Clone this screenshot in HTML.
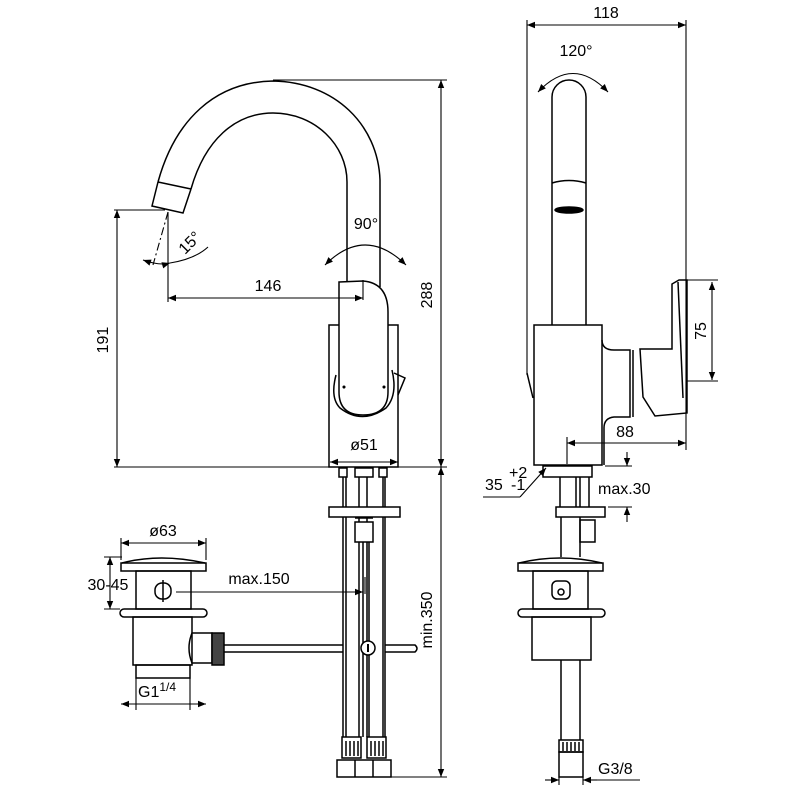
<!DOCTYPE html>
<html><head><meta charset="utf-8"><style>
html,body{margin:0;padding:0;background:#fff;}
svg{display:block;}
text{font-family:"Liberation Sans",sans-serif;font-size:16px;fill:#000;}
</style></head><body>
<svg width="800" height="800" viewBox="0 0 800 800" xmlns="http://www.w3.org/2000/svg">
<defs>
<marker id="a" viewBox="0 0 10 10" refX="10" refY="5" markerWidth="12" markerHeight="8" orient="auto-start-reverse" markerUnits="userSpaceOnUse"><path d="M0,1 L10,5 L0,9 z" fill="#000"/></marker>
</defs>
<g fill="none" stroke="#000" stroke-width="1.5">
<path d="M158,182 C175,120 215,82 273,81 C335,82 378,125 380,180 L380,287"/>
<path d="M191,189 C205,140 235,113 273,113 C315,113 347,145 347,182 L347,283"/>
<path d="M158,182 L152,206 L183,213 L191,189"/>
<line x1="158" y1="182" x2="191" y2="189"/>
<rect x="329" y="325" width="69" height="142"/>
<path d="M339,282 Q339,282 363,281 Q388,283 388,312 L388,392 Q388,415 363,415 Q339,415 339,392 Z" fill="#fff"/>
<path d="M336,375 Q330,398 340,408 Q362,425 386,408 Q398,395 392,370"/>
<path d="M394,373 L405,378 L398,395"/>
<circle cx="344" cy="387" r="0.8" fill="#000"/><circle cx="384" cy="387" r="0.8" fill="#000"/>
<rect x="339" y="468" width="8" height="9"/><rect x="355" y="468" width="18" height="9"/><rect x="379" y="468" width="8" height="9"/>
<line x1="343" y1="477" x2="343" y2="737"/><line x1="346" y1="477" x2="346" y2="737"/>
<line x1="359" y1="477" x2="359" y2="737"/><line x1="363" y1="542" x2="363" y2="737"/>
<line x1="367" y1="477" x2="367" y2="737"/><line x1="369" y1="542" x2="369" y2="737"/>
<line x1="383" y1="477" x2="383" y2="737"/><line x1="385" y1="477" x2="385" y2="737"/>
<rect x="329" y="507" width="71" height="10" fill="#fff"/>
<rect x="355" y="522" width="18" height="20" fill="#fff"/>
<line x1="355" y1="518" x2="373" y2="518"/>
<rect x="342" y="737" width="19" height="21"/><rect x="367" y="737" width="19" height="21"/>
<path d="M346,741V756M350,741V756M354,741V756M358,741V756M371,741V756M375,741V756M379,741V756M383,741V756"/>
<rect x="337" y="760" width="54" height="17"/>
<line x1="355" y1="760" x2="355" y2="777"/><line x1="373" y1="760" x2="373" y2="777"/>
<path d="M224,645 H343 M224,652 H343 M385,645 H415 Q419,648.5 415,652 H385"/>
<circle cx="368" cy="648" r="7" fill="#fff"/>
<line x1="368" y1="644" x2="368" y2="652" stroke-width="2"/>
<path d="M122,563 Q160,553 205,563"/>
<rect x="121" y="563" width="85" height="8"/>
<rect x="136" y="571" width="55" height="38"/>
<rect x="120" y="609" width="87" height="8" rx="4"/>
<rect x="133" y="617" width="59" height="48"/>
<rect x="136" y="665" width="54" height="13"/>
<path d="M192,633 Q186,648 192,663 H212 V633 Z"/>
<rect x="212" y="633" width="12" height="32" fill="#444"/>
<rect x="155" y="583" width="16" height="16" rx="7"/>
<line x1="163" y1="580" x2="163" y2="602"/>
<path d="M552,325 V97 A17,17 0 0 1 586,97 V325"/>
<path d="M552,183 Q569,178 586,183"/>
<ellipse cx="569" cy="210" rx="14" ry="3" fill="#000"/>
<rect x="534" y="325" width="68" height="140"/>
<path d="M602,340 Q602,350 614,350 H630 V417 H614 Q604,418 604,428 V465"/>
<path d="M633,350 V417"/>
<path d="M640,349 H672 V284 L679,280 H687 V413 L655,416 L643,397 Z"/>
<path d="M678,282 L683,398"/>
<path d="M527,373 L533,398"/>
<rect x="543" y="466" width="49" height="11"/>
<line x1="560" y1="477" x2="560" y2="507"/><line x1="576" y1="477" x2="576" y2="507"/>
<line x1="580" y1="477" x2="580" y2="507"/><line x1="589" y1="477" x2="589" y2="507"/>
<rect x="556" y="507" width="49" height="10"/>
<line x1="561" y1="517" x2="561" y2="557"/><line x1="580" y1="517" x2="580" y2="557"/>
<rect x="580" y="520" width="15" height="22"/>
<path d="M519,563 Q560,553 602,563"/>
<rect x="518" y="563" width="85" height="8"/>
<rect x="533" y="571" width="55" height="38"/>
<rect x="518" y="609" width="87" height="8" rx="4"/>
<rect x="532" y="617" width="59" height="43"/>
<line x1="561" y1="660" x2="561" y2="740"/><line x1="580" y1="660" x2="580" y2="740"/>
<rect x="559" y="740" width="24" height="12"/>
<path d="M563,742V751M567,742V751M571,742V751M575,742V751M579,742V751"/>
<rect x="559" y="752" width="24" height="25"/>
<rect x="552" y="581" width="18" height="18" rx="5"/>
<circle cx="561" cy="592" r="3"/>
</g>
<g fill="none" stroke="#000" stroke-width="1.1">
<path d="M273,80 H447 M398,467 H447 M114,467 H330 M114,210 H165 M391,777 H447"/>
<line x1="441" y1="80" x2="441" y2="467" marker-start="url(#a)" marker-end="url(#a)"/>
<line x1="441" y1="467" x2="441" y2="777" marker-start="url(#a)" marker-end="url(#a)"/>
<line x1="117" y1="210" x2="117" y2="467" marker-start="url(#a)" marker-end="url(#a)"/>
<line x1="168" y1="212" x2="168" y2="302"/>
<line x1="168" y1="298" x2="363" y2="298" marker-start="url(#a)" marker-end="url(#a)"/>
<line x1="363" y1="280" x2="363" y2="300"/>
<line x1="168" y1="212" x2="153" y2="265" stroke-dasharray="8,3,2,3"/>
<path d="M143,260 Q160,266 170,263" marker-start="url(#a)" marker-end="url(#a)"/>
<path d="M170,263 Q195,259 208,247"/>
<path d="M325,265 Q365,225 406,265" marker-start="url(#a)" marker-end="url(#a)"/>
<line x1="330" y1="462" x2="398" y2="462" marker-start="url(#a)" marker-end="url(#a)"/>
<line x1="121" y1="543" x2="206" y2="543" marker-start="url(#a)" marker-end="url(#a)"/>
<path d="M121,538 V560 M206,538 V560"/>
<line x1="110" y1="557" x2="110" y2="609" marker-start="url(#a)" marker-end="url(#a)"/>
<path d="M104,557 H122 M104,609 H120"/>
<line x1="176" y1="592" x2="363" y2="592" marker-end="url(#a)"/>
<line x1="365" y1="577" x2="365" y2="594"/>
<line x1="121" y1="704" x2="206" y2="704" marker-start="url(#a)" marker-end="url(#a)"/>
<path d="M136,678 V710 M190,678 V710"/>
<line x1="527" y1="25" x2="686" y2="25" marker-start="url(#a)" marker-end="url(#a)"/>
<path d="M527,20 V375 M686,20 V450"/>
<path d="M538,92 Q573,55 608,92" marker-start="url(#a)" marker-end="url(#a)"/>
<line x1="712" y1="282" x2="712" y2="380" marker-start="url(#a)" marker-end="url(#a)"/>
<path d="M680,280 H718 M686,381 H718"/>
<line x1="567" y1="443" x2="686" y2="443" marker-start="url(#a)" marker-end="url(#a)"/>
<line x1="567" y1="437" x2="567" y2="464"/>
<path d="M605,466 H632 M608,507 H632"/>
<line x1="627" y1="452" x2="627" y2="466" marker-end="url(#a)"/>
<line x1="627" y1="522" x2="627" y2="507" marker-end="url(#a)"/>
<line x1="520" y1="497" x2="546" y2="468" marker-end="url(#a)"/>
<line x1="483" y1="497" x2="520" y2="497"/>
<line x1="545" y1="780" x2="559" y2="780" marker-end="url(#a)"/>
<line x1="597" y1="780" x2="583" y2="780" marker-end="url(#a)"/>
<line x1="597" y1="780" x2="640" y2="780"/>
<path d="M559,777 V785 M583,777 V785"/>
</g>
<text x="268" y="291" text-anchor="middle">146</text>
<text x="366" y="229" text-anchor="middle">90°</text>
<text x="190" y="248" text-anchor="middle" transform="rotate(-45 190 243)">15°</text>
<text x="432" y="295" text-anchor="middle" transform="rotate(-90 432 295)">288</text>
<text x="108" y="340" text-anchor="middle" transform="rotate(-90 108 340)">191</text>
<text x="364" y="450" text-anchor="middle">ø51</text>
<text x="432" y="620" text-anchor="middle" transform="rotate(-90 432 620)">min.350</text>
<text x="163" y="536" text-anchor="middle">ø63</text>
<text x="108" y="590" text-anchor="middle">30-45</text>
<text x="259" y="584" text-anchor="middle">max.150</text>
<text x="138" y="697">G1<tspan font-size="12" dy="-6">1/4</tspan></text>
<text x="606" y="18" text-anchor="middle">118</text>
<text x="576" y="56" text-anchor="middle">120°</text>
<text x="706" y="331" text-anchor="middle" transform="rotate(-90 706 331)">75</text>
<text x="625" y="437" text-anchor="middle">88</text>
<text x="598" y="494">max.30</text>
<text x="485" y="490">35</text>
<text x="509" y="478" font-size="10">+2</text>
<text x="511" y="490" font-size="10">-1</text>
<text x="598" y="774">G3/8</text>
</svg>
</body></html>
